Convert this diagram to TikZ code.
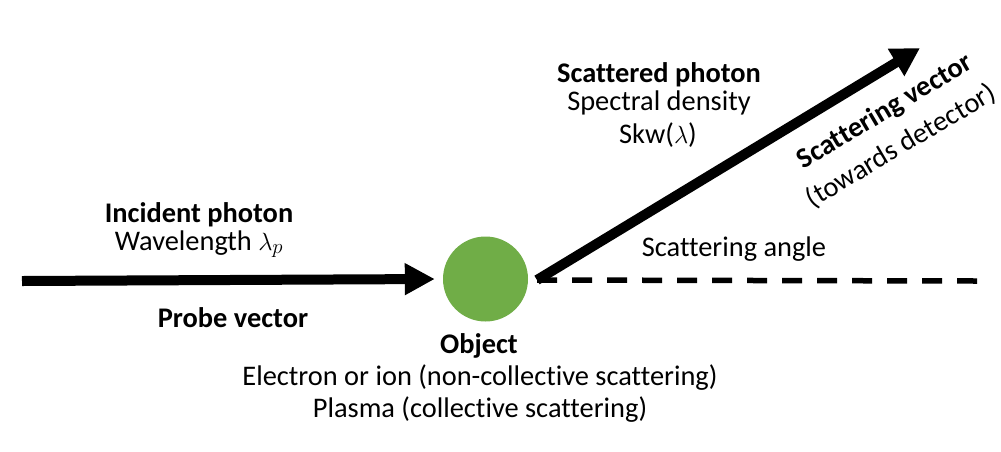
\documentclass[tikz,border=0pt]{standalone}
\usepackage{fontspec}
\setmainfont{Carlito}[Ligatures=NoCommon]
\usetikzlibrary{arrows.meta}
\definecolor{objgreen}{HTML}{70AD47}
\begin{document}
\begin{tikzpicture}[x=1pt,y=-1pt,
  txt/.style={inner sep=0pt,anchor=base,font=\fontsize{28.4}{34}\selectfont},
  btxt/.style={txt,font=\fontsize{28.4}{34}\selectfont\bfseries},
  vec/.style={line width=10pt,-{Triangle[length=30pt,width=30pt]}},
  refline/.style={line width=5.5pt,dash pattern=on 20pt off 15pt}]
\useasboundingbox (0,0) rectangle (1001,451);
% object
\node[circle,fill=objgreen,minimum size=85pt,inner sep=0pt] (obj) at (485.5,279) {};
% coordinates
\coordinate (src) at (22,281);
\coordinate (sstart) at (537,280);
\coordinate (det) at (920,48);
\coordinate (dend) at (977,281);
% connectors
\draw[vec] (src) -- ([xshift=-8pt]obj.west);
\draw[refline] (sstart) -- (dend);
\draw[vec,-{Triangle[length=28pt,width=30pt]}] (sstart) -- (det);
% texts
\node[btxt] (inc1) at (199,222) {Incident photon};
\node[txt] (inc2) at (199,250) {Wavelength $\lambda_p$};
\node[btxt] (probe) at (233,327) {Probe vector};
\node[btxt] (objt) at (479,353) {Object};
\node[txt] (obj2) at (480,385) {Electron or ion (non-collective scattering)};
\node[txt] (obj3) at (480,417) {Plasma (collective scattering)};
\node[btxt] (sc1) at (659,82) {Scattered photon};
\node[txt] (sc2) at (659,110) {Spectral density};
\node[txt] (sc3) at (658,143) {Skw($\lambda$)};
\node[txt] (ang) at (734,256) {Scattering angle};
\node[btxt,anchor=center,rotate=30.7] (sv1) at (885,112) {Scattering vector};
\node[txt,anchor=center,rotate=30.7] (sv2) at (901,146) {(towards detector)};
\end{tikzpicture}
\end{document}
